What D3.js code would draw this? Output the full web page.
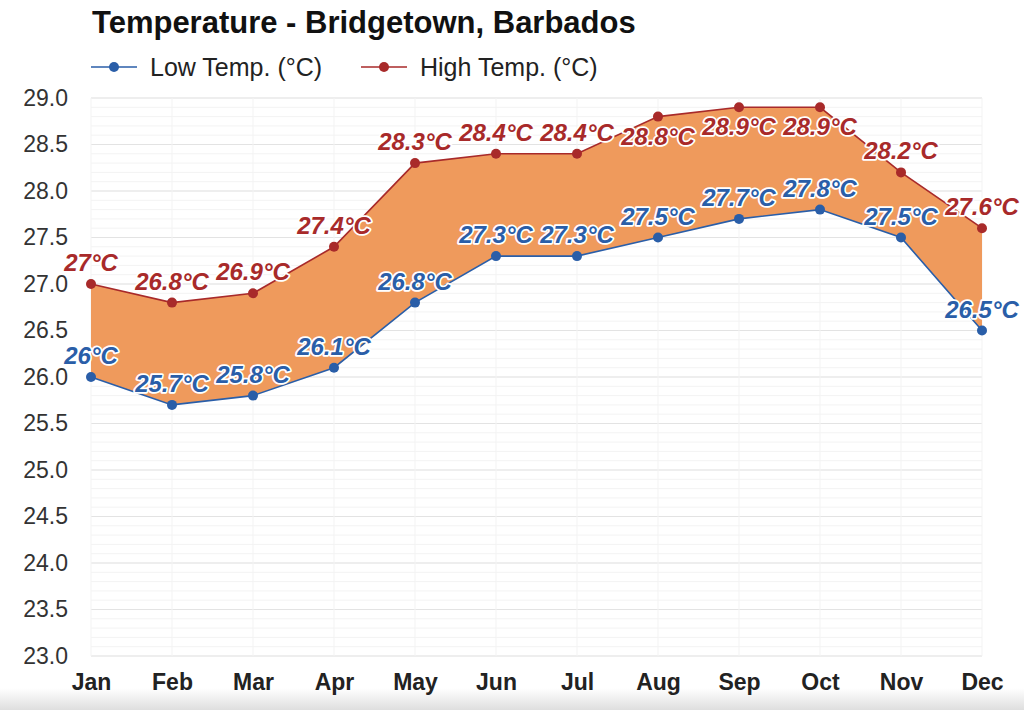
<!DOCTYPE html>
<html>
<head>
<meta charset="utf-8">
<script src="https://cdn.jsdelivr.net/npm/d3@7"></script>
<style>
  body { margin: 0; background: #fff; }
  svg { display: block; font-family: "Liberation Sans", Arial, sans-serif; }
</style>
</head>
<body>
<div id="chart"></div>
<script>
const months = ["Jan", "Feb", "Mar", "Apr", "May", "Jun", "Jul", "Aug", "Sep", "Oct", "Nov", "Dec"];
const lowTemps = [26.0, 25.7, 25.8, 26.1, 26.8, 27.3, 27.3, 27.5, 27.7, 27.8, 27.5, 26.5];
const highTemps = [27.0, 26.8, 26.9, 27.4, 28.3, 28.4, 28.4, 28.8, 28.9, 28.9, 28.2, 27.6];
const yTicks = [23.0, 23.5, 24.0, 24.5, 25.0, 25.5, 26.0, 26.5, 27.0, 27.5, 28.0, 28.5, 29.0];

const W = 1024, H = 710;
const margin = {top: 98, right: 42, bottom: 54, left: 91},
      width = W - margin.left - margin.right,
      height = H - margin.top - margin.bottom;

const lowColor = "#2a5ea8", highColor = "#a82a2a", fillColor = "#ef9a5c";

const root = d3.select("#chart").append("svg")
    .attr("width", W)
    .attr("height", H);

// grey fade along bottom edge
const grad = root.append("defs").append("linearGradient")
    .attr("id", "fade").attr("x1", 0).attr("y1", 0).attr("x2", 0).attr("y2", 1);
grad.append("stop").attr("offset", "0%").attr("stop-color", "#ffffff");
grad.append("stop").attr("offset", "100%").attr("stop-color", "#dedede");
root.append("rect").attr("x", 0).attr("y", 688).attr("width", W).attr("height", 22)
    .attr("fill", "url(#fade)");

const svg = root.append("g")
    .attr("transform", `translate(${margin.left},${margin.top})`);

const x = d3.scalePoint()
    .domain(months)
    .range([0, width]);

const y = d3.scaleLinear()
    .domain([23, 29])
    .range([height, 0]);

// minor grid
svg.append("g")
    .selectAll("line")
    .data(d3.range(230, 291).map(d => d / 10))
    .enter().append("line")
    .attr("x1", 0).attr("x2", width)
    .attr("y1", d => y(d)).attr("y2", d => y(d))
    .attr("stroke", "#f3f3f3")
    .attr("stroke-width", 1);

// major grid
svg.append("g")
    .selectAll("line")
    .data(yTicks)
    .enter().append("line")
    .attr("x1", 0).attr("x2", width)
    .attr("y1", d => y(d)).attr("y2", d => y(d))
    .attr("stroke", "#e3e3e3")
    .attr("stroke-width", 1.2);

// vertical month lines
svg.append("g")
    .selectAll("line")
    .data(months)
    .enter().append("line")
    .attr("x1", d => x(d)).attr("x2", d => x(d))
    .attr("y1", 0).attr("y2", height)
    .attr("stroke", "#f3f3f3")
    .attr("stroke-width", 1);

// y axis labels
svg.append("g")
    .call(d3.axisLeft(y).tickValues(yTicks).tickFormat(d3.format(".1f")).tickSize(0).tickPadding(23))
    .call(g => g.select(".domain").remove())
    .selectAll("text")
    .attr("font-size", 23)
    .attr("font-family", "Liberation Sans, Arial, sans-serif")
    .attr("fill", "#333");

// x axis labels
svg.append("g")
    .attr("transform", `translate(0,${height})`)
    .call(d3.axisBottom(x).tickSize(0).tickPadding(18))
    .call(g => g.select(".domain").remove())
    .selectAll("text")
    .attr("font-size", 23)
    .attr("font-weight", "bold")
    .attr("font-family", "Liberation Sans, Arial, sans-serif")
    .attr("fill", "#222");

const rows = months.map((m, i) => ({month: m, low: lowTemps[i], high: highTemps[i]}));

// band between low and high
svg.append("path")
    .datum(rows)
    .attr("fill", fillColor)
    .attr("d", d3.area()
        .x(d => x(d.month))
        .y0(d => y(d.low))
        .y1(d => y(d.high)));

const series = [
    {key: "low", label: "Low Temp. (°C)", color: lowColor},
    {key: "high", label: "High Temp. (°C)", color: highColor}
];

series.forEach(s => {
    svg.append("path")
        .datum(rows)
        .attr("fill", "none")
        .attr("stroke", s.color)
        .attr("stroke-width", 1.6)
        .attr("d", d3.line().x(d => x(d.month)).y(d => y(d[s.key])));

    svg.append("g")
        .selectAll("circle")
        .data(rows)
        .enter().append("circle")
        .attr("cx", d => x(d.month))
        .attr("cy", d => y(d[s.key]))
        .attr("r", 5)
        .attr("fill", s.color);
});

const fmt = v => (Number.isInteger(v) ? v : v.toFixed(1)) + "°C";

// value labels
series.forEach(s => {
    svg.append("g")
        .selectAll("text")
        .data(rows)
        .enter().append("text")
        .attr("x", d => x(d.month))
        .attr("y", d => {
            const py = y(d[s.key]);
            // labels near the top edge go under the point
            return (s.key === "high" && d.high > 28.6) ? py + 28 : py - 13;
        })
        .attr("text-anchor", "middle")
        .attr("font-size", 24)
        .attr("font-weight", "bold")
        .attr("font-style", "italic")
        .attr("fill", s.color)
        .attr("stroke", "#fff")
        .attr("stroke-width", 3.5)
        .attr("stroke-linejoin", "round")
        .attr("paint-order", "stroke")
        .text(d => fmt(d[s.key]));
});

// title
root.append("text")
    .attr("x", 92)
    .attr("y", 33)
    .attr("font-size", 31)
    .attr("font-weight", "bold")
    .attr("fill", "#111")
    .text("Temperature - Bridgetown, Barbados");

// legend
const legendX = [91, 361];
series.forEach((s, i) => {
    const g = root.append("g")
        .attr("transform", `translate(${legendX[i]}, 67)`);
    g.append("line")
        .attr("x1", 0).attr("x2", 46)
        .attr("stroke", s.color).attr("stroke-width", 1.6);
    g.append("circle")
        .attr("cx", 23).attr("r", 5).attr("fill", s.color);
    g.append("text")
        .attr("x", 59)
        .attr("dy", "0.35em")
        .attr("font-size", 25)
        .attr("fill", "#222")
        .text(s.label);
});
</script>
</body>
</html>
